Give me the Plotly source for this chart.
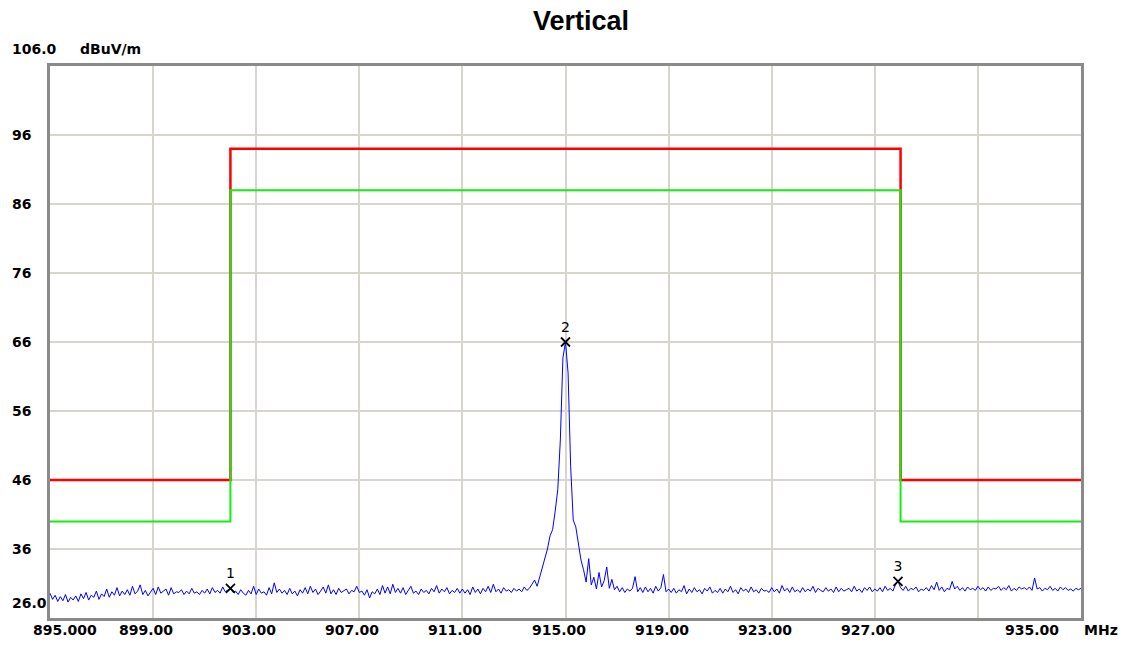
import numpy as np
import plotly.graph_objects as go

# ---------------- data ----------------
f_start, f_stop = 895.0, 935.0
trace_level = [
    # 895
    29.6, 28.7, 29.3, 28.4, 29.1, 28.5, 29.4, 28.3, 29.0, 28.6,
    # 896
    29.2, 28.4, 29.5, 28.8, 29.7, 28.6, 29.3, 29.0, 29.9, 28.7,
    # 897
    29.5, 29.1, 30.2, 29.0, 29.8, 29.3, 30.4, 29.2, 29.9, 29.4,
    # 898
    30.1, 29.3, 30.6, 29.5, 29.9, 30.8, 29.4, 30.0, 29.2, 29.8,
    # 899
    30.3, 29.4, 30.5, 29.6, 29.9, 30.2, 29.3, 30.4, 29.5, 29.8,
    # 900
    29.7, 30.1, 29.4, 29.9, 29.5, 30.3, 29.6, 29.8, 29.4, 30.0,
    # 901
    29.6, 30.2, 29.5, 30.4, 29.7, 30.0, 29.6, 30.5, 29.8, 30.1,
    # 902
    30.3, 29.7, 29.9, 29.4, 30.1, 29.6, 29.3, 30.0, 29.5, 30.6,
    # 903
    29.4, 30.2, 29.6, 29.8, 29.3, 30.4, 29.5, 31.1, 29.7, 30.2,
    # 904
    29.6, 30.0, 29.4, 30.3, 29.5, 29.9, 29.2, 30.1, 29.6, 30.4,
    # 905
    29.5, 30.6, 29.7, 30.2, 29.4, 29.9, 30.5, 29.6, 30.8, 29.5,
    # 906
    30.1, 29.4, 30.3, 29.7, 29.9, 30.2, 29.5, 30.0, 29.8, 30.6,
    # 907
    29.7, 29.9, 29.3, 30.1, 28.9, 29.8, 29.5, 30.2, 29.4, 30.7,
    # 908
    29.6, 30.5, 29.5, 30.9, 29.7, 30.3, 29.6, 30.4, 29.4, 30.0,
    # 909
    30.6, 29.6, 29.9, 29.4, 30.2, 29.7, 30.0, 29.5, 30.3, 29.8,
    # 910
    30.7, 29.6, 30.2, 29.8, 30.4, 29.5, 30.0, 29.7, 30.3, 29.6,
    # 911
    30.2, 29.6, 30.1, 29.4, 30.5, 29.7, 30.2, 29.5, 30.3, 29.8,
    # 912
    30.6, 29.7, 30.9, 29.8, 30.2, 29.6, 30.4, 29.9, 30.1, 29.7,
    # 913
    30.3, 29.9, 30.2, 29.8, 30.5, 30.0, 30.3, 30.9, 31.5, 30.6,
    # 914
    31.9, 33.2, 34.8, 36.0, 37.9, 38.8, 41.5, 44.6, 51.8, 63.7,
    # 915
    66.0, 61.5, 48.0, 40.2, 39.2, 36.8, 34.4, 33.0, 31.2, 34.6,
    # 916
    30.8, 31.9, 30.2, 32.6, 30.5, 31.4, 33.4, 30.3, 31.6, 30.1,
    # 917
    30.6, 29.8, 30.4, 29.7, 30.2, 29.9, 30.3, 32.0, 29.8, 30.4,
    # 918
    29.7, 30.5, 29.8, 30.3, 29.6, 30.6, 29.9, 30.4, 32.3, 29.8,
    # 919
    30.2, 29.7, 30.3, 29.6, 30.1, 29.8, 30.7, 29.5, 30.2, 29.7,
    # 920
    30.4, 29.8, 30.1, 29.5, 30.3, 29.9, 30.5, 29.6, 30.0, 29.7,
    # 921
    30.3, 29.6, 30.2, 29.8, 30.6, 29.7, 30.1, 29.5, 30.4, 29.9,
    # 922
    30.2, 29.7, 30.5, 29.8, 30.1, 29.6, 30.3, 29.9, 30.0, 29.7,
    # 923
    30.4, 29.8, 30.2, 29.6, 30.7, 29.9, 30.3, 29.7, 30.5, 29.8,
    # 924
    30.1, 29.7, 30.4, 29.8, 30.2, 29.9, 30.6, 29.7, 30.3, 30.0,
    # 925
    29.8, 30.4, 29.9, 30.2, 29.7, 30.5, 29.8, 30.3, 29.9, 30.1,
    # 926
    30.3, 29.8, 30.6, 29.9, 30.2, 29.7, 30.4, 30.0, 30.5, 29.8,
    # 927
    30.2, 29.9, 30.4, 29.8, 30.6, 30.0, 30.3, 29.9, 30.8, 31.3,
    # 928
    30.4, 30.0, 30.6, 29.9, 30.3, 30.1, 30.5, 29.8, 30.2, 30.0,
    # 929
    30.4, 29.9, 30.7, 30.1, 31.2, 30.0, 30.5, 29.8, 30.3, 30.1,
    # 930
    31.3, 30.2, 30.6, 30.0, 30.4, 29.9, 30.5, 30.1, 30.3, 30.0,
    # 931
    30.6, 30.1, 30.4, 29.9, 30.5, 30.0, 30.3, 30.2, 30.6, 30.0,
    # 932
    30.4, 30.1, 30.7, 29.9, 30.3, 30.0, 30.5, 30.2, 30.4, 30.1,
    # 933
    30.5, 30.0, 31.8, 30.2, 30.4, 29.9, 30.3, 30.1, 30.6, 30.0,
    # 934
    30.3, 29.9, 30.5, 30.1, 30.4, 30.0, 30.2, 29.9, 30.3, 30.1,
    # 935
    30.3,
]
trace_freq = np.linspace(f_start, f_stop, len(trace_level))

limit_freq = [895.0, 902.0, 928.0, 935.0]
limit_peak = [46, 94, 46, 46]      # red
limit_margin = [40, 88, 40, 40]    # green

marker_freq = [902.0, 915.0, 927.9]
marker_level = [30.3, 66.0, 31.3]
marker_label = ["1", "2", "3"]

y_tick_vals = [96, 86, 76, 66, 56, 46, 36]
x_tick_vals = [895, 899, 903, 907, 911, 915, 919, 923, 927, 935]
x_tick_text = ["895.000", "899.00", "903.00", "907.00", "911.00", "915.00",
               "919.00", "923.00", "927.00", "935.00"]
y_min, y_max = 26, 106

# ---------------- figure ----------------
W, H = 1124, 645
ML, MR, MT, MB = 50, 43, 66, 27
PW = W - ML - MR
PH = H - MT - MB

fig = go.Figure()
fig.add_trace(go.Scatter(x=limit_freq, y=limit_peak, mode="lines",
                         line=dict(color="#ff0000", width=2.5, shape="hv"),
                         hoverinfo="skip", showlegend=False))
fig.add_trace(go.Scatter(x=limit_freq, y=limit_margin, mode="lines",
                         line=dict(color="#11ee11", width=2, shape="hv"),
                         hoverinfo="skip", showlegend=False))
fig.add_trace(go.Scatter(x=trace_freq, y=trace_level, mode="lines",
                         line=dict(color="#0000ff", width=1),
                         showlegend=False))
fig.add_trace(go.Scatter(x=marker_freq, y=marker_level, mode="markers+text",
                         marker=dict(symbol="x-thin", size=9,
                                     line=dict(color="#000000", width=1.8)),
                         text=marker_label, textposition="top center",
                         textfont=dict(family="DejaVu Sans", size=14, color="#000000"),
                         showlegend=False))

label_font = dict(family="DejaVu Sans", size=14, color="#000000")
annotations = []


def px_to_paper_x(px):
    return (px - ML) / PW


# y tick labels (left-aligned near the page edge)
for v in y_tick_vals:
    annotations.append(dict(x=px_to_paper_x(10), xref="paper", y=v, yref="y",
                            text="<b>%d</b>" % v, showarrow=False,
                            xanchor="left", yanchor="middle", font=label_font))
annotations.append(dict(x=px_to_paper_x(10), xref="paper", y=1, yref="paper",
                        yshift=17, text="<b>%.1f</b>" % y_max, showarrow=False,
                        xanchor="left", yanchor="middle", font=label_font))
annotations.append(dict(x=px_to_paper_x(78), xref="paper", y=1, yref="paper",
                        yshift=17, text="<b>dBuV/m</b>", showarrow=False,
                        xanchor="left", yanchor="middle", font=label_font))
annotations.append(dict(x=px_to_paper_x(10), xref="paper", y=y_min, yref="y",
                        yshift=15, text="<b>%.1f</b>" % y_min, showarrow=False,
                        xanchor="left", yanchor="middle", font=label_font))

# x tick labels
for v, t in zip(x_tick_vals, x_tick_text):
    if v == 895:
        shift = 15
    elif v == 935:
        shift = -49
    else:
        shift = -7
    annotations.append(dict(x=v, xref="x", y=0, yref="paper", yshift=-12,
                            xshift=shift, text="<b>%s</b>" % t, showarrow=False,
                            xanchor="center", yanchor="middle", font=label_font))
annotations.append(dict(x=f_stop, xref="x", y=0, yref="paper", yshift=-12,
                        xshift=1, text="<b>MHz</b>", showarrow=False,
                        xanchor="left", yanchor="middle", font=label_font))

# title
annotations.append(dict(x=px_to_paper_x(581), xref="paper", y=1, yref="paper",
                        yshift=45, text="<b>Vertical</b>", showarrow=False,
                        xanchor="center", yanchor="middle",
                        font=dict(family="Liberation Sans", size=27, color="#000000")))

fig.update_layout(
    width=W, height=H,
    margin=dict(l=ML, r=MR, t=MT, b=MB),
    paper_bgcolor="#ffffff", plot_bgcolor="#ffffff",
    annotations=annotations,
    xaxis=dict(range=[f_start, f_stop], tick0=895, dtick=4, showticklabels=False,
               ticks="", showgrid=True, gridcolor="#d8d5cf", gridwidth=1.5,
               zeroline=False, showline=True, mirror=True,
               linecolor="#8a8a8a", linewidth=2.5),
    yaxis=dict(range=[y_min, y_max], tick0=26, dtick=10, showticklabels=False,
               ticks="", showgrid=True, gridcolor="#d8d5cf", gridwidth=1.5,
               zeroline=False, showline=True, mirror=True,
               linecolor="#8a8a8a", linewidth=2.5),
)

fig.write_html("out.html",
               config={"displayModeBar": False},
               post_script="document.body.style.margin='0';document.body.style.padding='0';document.body.style.overflow='hidden';")
